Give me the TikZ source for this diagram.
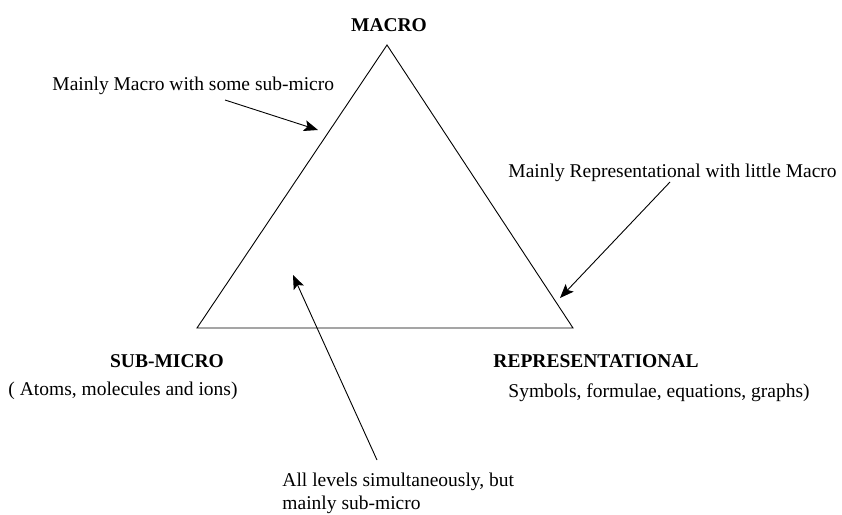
\documentclass[tikz,border=0pt]{standalone}
\usepackage{fontspec}
\setmainfont{Liberation Serif}
\usetikzlibrary{arrows.meta}

\begin{document}
\begin{tikzpicture}[x=1pt, y=-1pt, line width=0.9pt,
  every node/.style={font=\fontsize{19.5}{22.5}\selectfont, inner sep=0pt},
  lvl/.style={font=\fontsize{19.5}{22.5}\selectfont\bfseries, anchor=base},
  note/.style={anchor=base west},
  pointer/.style={-{Stealth[length=14pt, width=11pt, inset=3pt]}}]
  \useasboundingbox (0,0) rectangle (842,514);

  % Corners of the triangle
  \coordinate (top) at (387,45);
  \coordinate (left) at (197,328);
  \coordinate (right) at (573,328);
  \draw (top) -- (left) -- (right) -- cycle;

  % Level names
  \node[lvl] (macro) at (389,31) {MACRO};
  \node[lvl] (submicro) at (167,367) {SUB-MICRO};
  \node[lvl] (repr) at (596,367) {REPRESENTATIONAL};
  \node[anchor=base east] (atoms) at (238,395) {( Atoms, molecules and ions)};
  \node[note] (symbols) at (508,397) {Symbols, formulae, equations, graphs)};

  % Notes
  \node[note] (notemacro) at (52,90) {Mainly Macro with some sub-micro};
  \node[note] (noterepr) at (508,177) {Mainly Representational with little Macro};
  \node[anchor=north west, align=left] (noteall) at (282,473)
    {All levels simultaneously, but\\mainly sub-micro};

  % Pointers into the triangle
  \coordinate (tailmacro) at (225,100);
  \coordinate (tipmacro) at (318,130);
  \coordinate (tailrepr) at (670,182);
  \coordinate (tiprepr) at (560,298);
  \coordinate (tailall) at (377,460);
  \coordinate (tipall) at (293,275);
  \draw[pointer] (tailmacro) -- (tipmacro);
  \draw[pointer] (tailrepr) -- (tiprepr);
  \draw[pointer] (tailall) -- (tipall);
\end{tikzpicture}
\end{document}
